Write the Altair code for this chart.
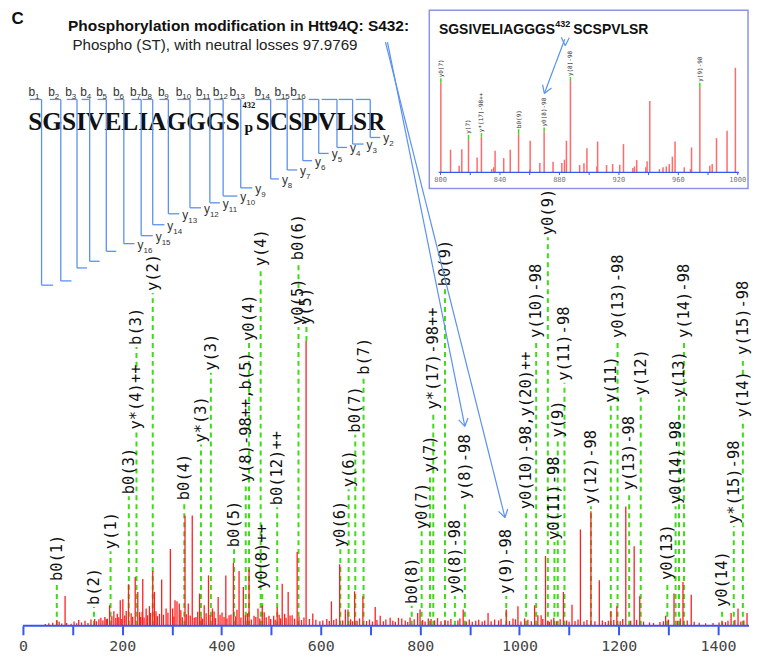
import math
import altair as alt
import pandas as pd

W, H = 744, 619
MZ_DOMAIN = [-30.1, 1462.4]
INT_MAX = 216.4
RED = "#ff1f1f"
PINK = "#ff6b6b"
GREEN = "#3ddc14"
BLUE_AXIS = "#3656f2"
BLUE_LINE = "#5a92f0"
BOX = "#8c94e6"
MONO = "DejaVu Sans Mono"
SANS = "Liberation Sans"
SERIF = "Liberation Serif"

# ---------------- main spectrum peaks (m/z, relative intensity %) ----------------
peak_mz = [68.2, 84.9, 112.3, 144.4, 153, 167.9, 174.5, 183.1, 196, 201.2, 212.6, 226.1, 231.3,
           240.1, 241.3, 248.1, 254.8, 261.4, 264.8, 279.4, 288.3, 296.9, 301.5, 306.3, 310.3,
           314.9, 326.4, 333, 341, 348.4, 355.7, 365.1, 373.7, 381.7, 393.2, 408.6, 415.2, 423.9,
           435.3, 443.9, 455.4, 465.4, 473.4, 482, 495.5, 512.1, 522.2, 534.2, 542.2, 552.3, 570.3,
           583.8, 621.3, 637.9, 649.4, 654.6, 668, 684.7, 709.5, 719.6, 739.6, 756.3, 763, 779.7,
           795, 799.8, 816.4, 850, 886.7, 936.8, 973.5, 987, 997, 1010.4, 1030.5, 1037.1, 1043.7,
           1052.5, 1060.5, 1069.2, 1088.6, 1105.9, 1122.8, 1144, 1160.9, 1184.2, 1196.2, 1214.2,
           1231.1, 1242.3, 1294.5, 1311.3, 1329.4, 1346, 1408.2, 1426.3, 1440.3, 1458.4]
peak_int = [2.0, 10.5, 2.0, 2.4, 2.3, 2.3, 7.2, 5.1, 9.0, 9.3, 14.6, 17.1, 11.9,
            4.9, 16.4, 6.1, 6.9, 19.2, 11.9, 16.3, 6.1, 27.0, 6.1, 9.0, 8.6,
            7.8, 38.7, 7.8, 38.7, 3.1, 11.3, 7.2, 17.7, 6.1, 10.1, 17.7, 3.7, 22.1,
            19.2, 13.6, 19.8, 3.5, 6.1, 7.2, 3.5, 6.4, 14.8, 11.9, 3.7, 25.9, 100,
            4.3, 8.6, 21.6, 5.7, 5.7, 12.1, 10.4, 6.6, 3.5, 2.8, 2.8, 2.6, 2.9,
            4.5, 5.7, 2.6, 2.0, 5.7, 4.5, 5.7, 2.6, 6.9, 2.6, 7.2, 3.7, 3.7,
            24.5, 1.4, 2.8, 11.9, 7.4, 33.8, 40.2, 16.0, 5.2, 6.9, 41.9,
            27.9, 10.4, 3.5, 11.3, 15.4, 10.9, 1.4, 4.5, 6.1, 4.5]

# small background peaks
grass_mz = [45, 52, 60, 73, 78, 88, 97, 103, 108, 118, 125, 131, 137, 148, 157, 161, 165, 170, 179,
            187, 190, 193, 199, 205, 208, 218, 221, 235, 237, 244, 251, 257, 268, 271, 275, 283, 292,
            304, 318, 321, 329, 337, 345, 352, 359, 362, 369, 377, 385, 388, 397, 401, 405, 411, 419,
            428, 431, 439, 448, 452, 460, 469, 477, 486, 490, 499, 505, 508, 516, 519, 527, 530, 538,
            547, 556, 561, 566, 577, 590, 598, 604, 612, 617, 626, 631, 644, 660, 664, 673, 678, 692,
            698, 704, 713, 726, 731, 745, 750, 770, 775, 788, 805, 810, 822, 829, 835, 842, 856, 862,
            876, 880, 893, 899, 905, 912, 918, 925, 930, 943, 950, 958, 963, 980, 992, 1003, 1017,
            1024, 1047, 1057, 1064, 1075, 1082, 1095, 1100, 1112, 1118, 1130, 1136, 1152, 1167, 1173,
            1179, 1190, 1203, 1208, 1224, 1236, 1250, 1262, 1270, 1283, 1290, 1300, 1318, 1324, 1338,
            1352, 1362, 1375, 1390, 1402, 1415, 1420, 1434, 1446, 1452]
grass_int = [0.6, 0.9, 1.1, 1.4, 0.8, 1.0, 0.7, 1.5, 0.9, 1.2, 1.8, 1.0, 2.2, 1.6, 2.8, 1.9, 3.1, 2.5, 3.4,
             2.7, 4.2, 3.0, 2.4, 3.6, 5.2, 4.4, 3.2, 4.8, 3.1, 2.9, 3.7, 4.5, 5.1, 3.4, 4.2, 3.9, 4.6,
             3.3, 5.5, 3.0, 4.1, 3.6, 2.8, 4.9, 3.2, 2.5, 4.4, 3.8, 5.0, 2.7, 3.9, 4.7, 3.1, 2.6, 4.0,
             3.3, 5.6, 2.9, 3.7, 4.4, 2.2, 3.1, 2.6, 4.8, 3.0, 2.4, 3.5, 2.1, 3.9, 2.6, 4.2, 2.8, 3.6,
             2.5, 3.2, 2.0, 2.9, 2.4, 2.1, 1.6, 1.9, 2.4, 1.7, 2.0, 2.5, 1.9, 2.3, 1.6, 1.8, 2.6, 1.7,
             2.2, 1.5, 2.0, 1.6, 2.2, 1.8, 1.4, 1.9, 1.3, 2.3, 2.0, 1.5, 2.4, 1.9, 2.7, 1.6, 1.8, 2.4,
             1.9, 2.6, 1.5, 2.2, 1.4, 1.8, 2.1, 1.5, 1.9, 1.6, 2.2, 1.9, 2.5, 1.7, 2.3, 1.5, 2.1,
             1.6, 2.4, 1.8, 2.2, 1.6, 2.3, 1.9, 1.4, 1.7, 2.2, 1.5, 2.0, 1.6, 1.9, 1.3,
             1.8, 2.0, 1.6, 2.4, 1.8, 2.1, 1.5, 1.2, 1.0, 1.3, 1.6, 2.2, 1.8, 2.6, 1.9,
             1.4, 1.1, 0.9, 1.0, 1.2, 1.3, 1.8, 2.0, 1.5, 1.9]

# ---------------- fragment annotations ----------------
label_text = ["b0(1)", "b(2)", "y(1)", "b0(3)", "y*(4)++", "b(3)", "y(2)", "y*(3)", "y(3)", "b0(4)",
              "b0(5)", "y(8)-98++,b(5)", "y0(8)++", "b0(12)++", "y0(4)", "y(4)", "y0(5)", "b0(6)",
              "y(5)", "y0(6)", "y(6)", "b0(7)", "b(7)", "b0(8)", "y0(7)", "y(7)", "y*(17)-98++",
              "b0(9)", "y0(8)-98", "y(8)-98", "y(9)-98", "y0(10)-98,y(20)++", "y(10)-98", "y0(9)",
              "y0(11)-98", "y(9)", "y(11)-98", "y(12)-98", "y(11)", "y0(13)-98", "y(13)-98", "y(12)",
              "y0(13)", "y0(14)-98", "y(13)", "y(14)-98", "y0(14)", "y*(15)-98", "y(14)", "y(15)-98"]
label_mz = [68.2, 143, 176.5, 213.2, 228.7, 228.7, 261.4, 358.5, 378.5, 325,
            425.3, 448.7, 482, 512.1, 455.4, 478.8, 555, 555,
            571, 639.3, 656, 669.4, 686, 783, 803, 819.9, 826.5,
            850, 870, 890, 973.5, 1013.6, 1033.7, 1057.2,
            1070.6, 1077.2, 1090.7, 1144, 1184, 1197.6, 1221, 1244.3,
            1297.9, 1314.5, 1321.4, 1331.4, 1408.2, 1431.7, 1450, 1450]
label_level = [15.0, 6.6, 26.2, 45.5, 68.2, 97.9, 116.8, 63.6, 88.8, 43.4,
               26.9, 49.7, 12.2, 41.6, 99.3, 125.5, 104.9, 127.6,
               104.9, 26.9, 47.9, 67.1, 87.4, 7.0, 33.2, 53.1, 75.2,
               118.5, 10.5, 43.7, 10.5, 40.2, 100.3, 136.4,
               29.4, 65.4, 85.3, 42.0, 77.6, 100.3, 46.9, 80.1,
               15.4, 42.0, 79.4, 100.3, 5.9, 35.0, 72.4, 94.4]
label_base = [0] * len(label_text)
label_base[label_text.index("b(3)")] = 90.9
label_base[label_text.index("b0(6)")] = 118.5
label_base[label_text.index("y(5)")] = 100
label_base[label_text.index("y(15)-98")] = 88.1

# ---------------- peptide fragmentation diagram (figure coordinates) ----------------
cleave_x = [41.7, 61, 77.3, 90, 106.7, 124.3, 141.7, 153.3, 169, 190.7, 210.7, 224, 241.7,
            271.7, 288.3, 304, 320, 338.3, 354, 371.7]
top_start = [30, 50, 67, 82, 98, 115, 132, 143, 160, 178, 198, 215, 232, 257, 277, 293, 310,
             323, 340, 357]
bottom_y = [285, 280.7, 267.7, 261, 251, 243.3, 235.3, 224.3, 213.3, 207.3, 202.3, 195.5, 187.3,
            178.3, 169.3, 160, 152.7, 146.7, 143.3, 136.7]
bottom_end = [53.3, 71.7, 87.3, 100, 116.7, 135, 153.3, 165, 180, 201.7, 220.7, 238.3, 253.3,
              280, 298.3, 313.3, 330, 348.3, 365, 381.7]
TOP_Y = 98.5
b_numbers = ["1", "2", "3", "4", "5", "6", "7", "8", "9", "10", "11", "12", "13", "14", "15", "16"]
y_numbers = ["16", "15", "14", "13", "12", "11", "10", "9", "8", "7", "6", "5", "4", "3", "2"]
Y_FIRST = 5  # y labels start on the 6th bracket

# ---------------- inset (m/z 800-1000) ----------------
inset_mz = [800.2, 806.7, 812.5, 814.3, 818.8, 824.6, 827.5, 834.4, 835.8, 836.7, 842.5, 846.9,
            852.5, 860.3, 860.0, 866.8, 869.7, 875.7, 881.6, 883.4, 884.7, 887.4, 893.6, 896.5,
            898.5, 905.2, 905.7, 911.7, 915.8, 920.6, 923.1, 929.4, 930.5, 932.0, 938.1, 939.0,
            940.8, 947.3, 949.7, 951.9, 953.9, 956.0, 957.8, 964.0, 968.2, 968.9, 974.5, 981.2,
            982.8, 985.7, 992.8, 998.4]
inset_int = [85.7, 21.6, 6.4, 22.2, 30.8, 14.3, 34.0, 3.1, 4.8, 20.7, 13.6, 21.6,
             36.5, 30.2, 2.5, 8.9, 39.0, 10.2, 8.9, 12.1, 30.2, 87.3, 7.0, 8.6,
             23.1, 5.7, 29.5, 7.0, 7.9, 7.3, 27.0, 4.1, 5.7, 11.7, 4.8, 10.5,
             68.3, 3.1, 4.8, 5.7, 7.9, 15.0, 29.5, 4.8, 3.1, 23.8, 81.0, 6.4,
             7.9, 32.7, 39.7, 100]
inset_ticks = list(range(800, 1001, 20))
inset_tick_labels = [str(v) if v % 40 == 0 else "" for v in inset_ticks]
inset_label_text = ["y0(7)", "y(7)", "y*(17)-98++", "b0(9)", "y0(8)-98", "y(8)-98", "y(9)-98"]
inset_label_mz = [800.2, 818.8, 827.5, 852.5, 869.7, 887.4, 974.5]
inset_label_level = [89.9, 35.9, 37.5, 41.3, 42.9, 91.1, 85.7]
inset_label_peak = [85.7, 30.8, 34.0, 36.5, 39.0, 87.3, 81.0]

# arrows (figure coordinates): start -> tip
arrows = [((389, 41), (466.7, 426.7)),
          ((387, 41), (507, 518.3)),
          ((567, 38), (546.5, 92.5))]

# ---------------- build tables ----------------
peaks_df = pd.DataFrame({"mz": peak_mz + grass_mz, "int": peak_int + grass_int})
peaks_df["zero"] = 0.0
lab_df = pd.DataFrame({"mz": label_mz, "level": label_level, "base": label_base, "text": label_text})
axis_df = pd.DataFrame({"a": [0.0], "b": [MZ_DOMAIN[1]], "y": [0.0]})

seg = []
for k in range(len(cleave_x)):
    seg.append((top_start[k], TOP_Y, cleave_x[k], TOP_Y))
    seg.append((cleave_x[k], TOP_Y, cleave_x[k], bottom_y[k]))
    seg.append((cleave_x[k], bottom_y[k], bottom_end[k], bottom_y[k]))
diag_df = pd.DataFrame(seg, columns=["x1", "y1", "x2", "y2"])

arr = []
for (x1, y1), (x2, y2) in arrows:
    arr.append((x1, y1, x2, y2))
    ang = math.atan2(y2 - y1, x2 - x1)
    for s in (-1, 1):
        a = ang + math.pi + s * math.radians(32)
        arr.append((x2, y2, x2 + 9 * math.cos(a), y2 + 9 * math.sin(a)))
# small chevron under the inset site number
tipx, tipy = arrows[2][0]
arr.append((tipx - 3.5, tipy - 2, tipx + 0.5, tipy + 6.5))
arr.append((tipx + 0.5, tipy + 6.5, tipx + 4.5, tipy - 1.5))
arrow_df = pd.DataFrame(arr, columns=["x1", "y1", "x2", "y2"])

b_main = pd.DataFrame({"x": [top_start[i] - 1.5 for i in range(len(b_numbers))],
                       "y": [TOP_Y - 3] * len(b_numbers), "text": ["b"] * len(b_numbers)})
b_sub = pd.DataFrame({"x": [top_start[i] + 5 for i in range(len(b_numbers))],
                      "y": [TOP_Y - 0.5] * len(b_numbers), "text": b_numbers})
yk = list(range(Y_FIRST, Y_FIRST + len(y_numbers)))
y_main = pd.DataFrame({"x": [bottom_end[k] + 3 for k in yk], "y": [bottom_y[k] + 5 for k in yk],
                       "text": ["y"] * len(yk)})
y_sub = pd.DataFrame({"x": [bottom_end[k] + 9 for k in yk], "y": [bottom_y[k] + 9 for k in yk],
                      "text": y_numbers})

inset_df = pd.DataFrame({"mz": inset_mz, "int": inset_int})
inset_df["zero"] = 0.0
ilab_df = pd.DataFrame({"mz": inset_label_mz, "level": inset_label_level,
                        "peak": inset_label_peak, "text": inset_label_text})
iaxis_df = pd.DataFrame({"a": [798.8], "b": [1000.8], "y": [0.0]})
itick_df = pd.DataFrame({"mz": inset_ticks, "y": [0.0] * len(inset_ticks),
                         "y2": [-2.6] * len(inset_ticks), "text": inset_tick_labels})
box_df = pd.DataFrame({"x1": [431], "x2": [751], "y1": [9], "y2": [188]})

# ---------------- scales ----------------
xs = alt.Scale(domain=MZ_DOMAIN, nice=False, zero=False)
ys = alt.Scale(domain=[0, INT_MAX], nice=False, zero=False)
cxs = alt.Scale(domain=[8, 8 + W], nice=False, zero=False)
cys = alt.Scale(domain=[8, 8 + H], nice=False, zero=False, reverse=True)
ixs = alt.Scale(domain=[800, 1000], range=[434.3, 732.7], nice=False, zero=False)
iys = alt.Scale(domain=[0, 100], range=[163.7, 58.7], nice=False, zero=False)

main_axis = alt.Axis(values=list(range(0, 1500, 100)), format="d",
                     labelExpr="datum.value % 200 === 0 ? datum.label : ''",
                     domain=False, grid=False, tickColor=BLUE_AXIS, tickWidth=2, tickSize=9,
                     labelFont=MONO, labelFontSize=15, labelColor="#444", labelPadding=4,
                     labelOverlap=False, labelFlush=False, title=None)

# ---------------- main layers ----------------
dash = alt.Chart(lab_df).mark_rule(color=GREEN, strokeWidth=2, strokeDash=[5, 4]).encode(
    x=alt.X("mz:Q", scale=xs, axis=None),
    y=alt.Y("base:Q", scale=ys, axis=None), y2=alt.Y2("level"))
bars = alt.Chart(peaks_df).mark_rule(color=RED, strokeWidth=1.3).encode(
    x=alt.X("mz:Q", scale=xs, axis=main_axis),
    y=alt.Y("int:Q", scale=ys, axis=None), y2=alt.Y2("zero"))
baseline = alt.Chart(axis_df).mark_rule(color=BLUE_AXIS, strokeWidth=2).encode(
    x=alt.X("a:Q", scale=xs, axis=None), x2=alt.X2("b"),
    y=alt.Y("y:Q", scale=ys, axis=None))
labels = alt.Chart(lab_df).mark_text(angle=270, align="left", baseline="middle", font=MONO,
                                     fontSize=15.5, dx=2, color="#111").encode(
    x=alt.X("mz:Q", scale=xs, axis=None),
    y=alt.Y("level:Q", scale=ys, axis=None), text="text:N")


# ---------------- figure-coordinate layers ----------------
def segs(df, **kw):
    return alt.Chart(df).mark_rule(**kw).encode(
        x=alt.X("x1:Q", scale=cxs, axis=None), y=alt.Y("y1:Q", scale=cys, axis=None),
        x2=alt.X2("x2"), y2=alt.Y2("y2"))


def ctext(rows, **kw):
    df = pd.DataFrame(rows, columns=["x", "y", "text"]) if isinstance(rows, list) else rows
    return alt.Chart(df).mark_text(align="left", baseline="alphabetic", **kw).encode(
        x=alt.X("x:Q", scale=cxs, axis=None), y=alt.Y("y:Q", scale=cys, axis=None),
        text="text:N")


figure_layers = [
    ctext([(11.5, 22.5, "C")], font=SANS, fontSize=17, fontWeight="bold", color="#111"),
    ctext([(68.3, 30, "Phosphorylation modification in Htt94Q: S432:")],
          font=SANS, fontSize=15.5, fontWeight="bold", color="#111"),
    ctext([(72.7, 49.3, "Phospho (ST), with neutral losses 97.9769")],
          font=SANS, fontSize=15.2, color="#222"),
    ctext([(28.3, 129.3, "SGSIVELIAGGGS"), (256.7, 129.3, "SCSPVLSR")],
          font=SERIF, fontSize=25.5, fontWeight="bold", color="#111"),
    ctext([(243.5, 107.5, "432")], font=SERIF, fontSize=8.5, fontWeight="bold", color="#111"),
    ctext([(245.5, 130.7, "p")], font=SERIF, fontSize=15.5, fontWeight="bold", color="#111"),
    segs(diag_df, color=BLUE_LINE, strokeWidth=1.3),
    ctext(b_main, font=SANS, fontSize=12, color="#333"),
    ctext(b_sub, font=SANS, fontSize=8, color="#333"),
    ctext(y_main, font=SANS, fontSize=12, color="#333"),
    ctext(y_sub, font=SANS, fontSize=8, color="#333"),
    segs(arrow_df, color=BLUE_LINE, strokeWidth=1.2),
    alt.Chart(box_df).mark_rect(fillOpacity=0, stroke=BOX, strokeWidth=1.5).encode(
        x=alt.X("x1:Q", scale=cxs, axis=None), x2=alt.X2("x2"),
        y=alt.Y("y1:Q", scale=cys, axis=None), y2=alt.Y2("y2")),
    ctext([(440.7, 32.5, "SGSIVELIAGGGS"), (575.5, 32.5, "SCSPVLSR")],
          font=SANS, fontSize=14, fontWeight="bold", color="#111"),
    ctext([(557.5, 25.5, "432")], font=SANS, fontSize=9, fontWeight="bold", color="#111"),
]

# ---------------- inset layers ----------------
inset_bars = alt.Chart(inset_df).mark_rule(color=PINK, strokeWidth=1.5).encode(
    x=alt.X("mz:Q", scale=ixs, axis=None),
    y=alt.Y("int:Q", scale=iys, axis=None), y2=alt.Y2("zero"))
inset_line = alt.Chart(iaxis_df).mark_rule(color=BLUE_AXIS, strokeWidth=1.3).encode(
    x=alt.X("a:Q", scale=ixs, axis=None), x2=alt.X2("b"),
    y=alt.Y("y:Q", scale=iys, axis=None))
inset_tick = alt.Chart(itick_df).mark_rule(color=BLUE_AXIS, strokeWidth=1).encode(
    x=alt.X("mz:Q", scale=ixs, axis=None),
    y=alt.Y("y:Q", scale=iys, axis=None), y2=alt.Y2("y2"))
inset_ticklab = alt.Chart(itick_df).mark_text(font=MONO, fontSize=7, color="#777",
                                              baseline="middle", align="center", dy=8).encode(
    x=alt.X("mz:Q", scale=ixs, axis=None),
    y=alt.Y("y:Q", scale=iys, axis=None), text="text:N")
inset_dash = alt.Chart(ilab_df).mark_rule(color=GREEN, strokeWidth=1.5).encode(
    x=alt.X("mz:Q", scale=ixs, axis=None),
    y=alt.Y("peak:Q", scale=iys, axis=None), y2=alt.Y2("level"))
inset_text = alt.Chart(ilab_df).mark_text(angle=270, align="left", baseline="middle", font=MONO,
                                          fontSize=6, dx=1, color="#333").encode(
    x=alt.X("mz:Q", scale=ixs, axis=None),
    y=alt.Y("level:Q", scale=iys, axis=None), text="text:N")

chart = alt.layer(
    dash, bars, baseline, labels, *figure_layers,
    inset_bars, inset_line, inset_tick, inset_ticklab, inset_dash, inset_text
).resolve_scale(x="independent", y="independent").properties(
    width=W, height=H, padding={"left": 0, "top": 0, "right": 0, "bottom": 0}
).configure_view(stroke=None)

chart.save("out.html", embed_options={"renderer": "svg", "actions": False})
